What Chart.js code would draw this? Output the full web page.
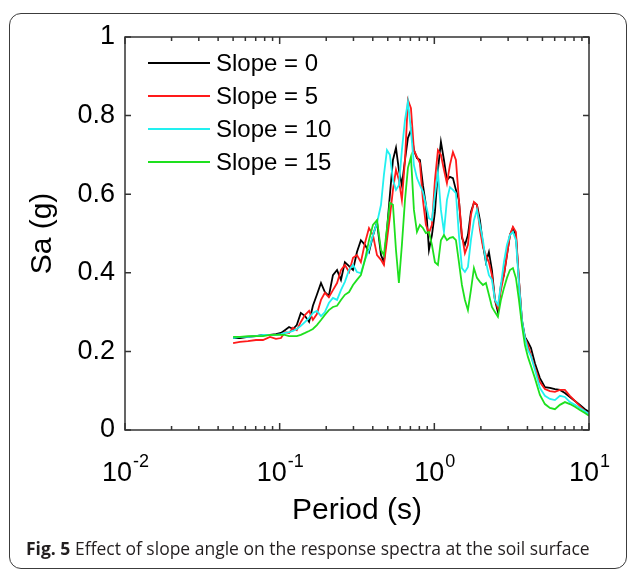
<!DOCTYPE html>
<html>
<head>
<meta charset="utf-8">
<script src="https://cdn.jsdelivr.net/npm/chart.js@4.4.0/dist/chart.umd.min.js"></script>
<style>
  html, body { margin: 0; padding: 0; background: #fff; }
  #wrap { position: relative; width: 630px; height: 571px; overflow: hidden; }
  #frame { position: absolute; left: 9px; top: 13px; width: 616px; height: 554px; border: 1.5px solid #3c3c3c; border-radius: 12px; }
  canvas { position: absolute; left: 0; top: 0; }
  #caption { position: absolute; left: 26px; top: 538px; line-height: 20px; font-family: "Open Sans", sans-serif; font-size: 16px; color: #231f20; white-space: nowrap; }
</style>
</head>
<body>
<div id="wrap">
  <div id="frame"></div>
  <canvas id="spectra" width="630" height="571"></canvas>
  <div id="caption"><b>Fig. 5</b> Effect of slope angle on the response spectra at the soil surface</div>
</div>
<script>
// periods (s)
const periods = [0.050, 0.0554, 0.0624, 0.0703, 0.0780, 0.0866, 0.0946, 0.102, 0.108, 0.115,
  0.122, 0.129, 0.137, 0.146, 0.155, 0.164, 0.174, 0.185, 0.196, 0.208,
  0.221, 0.235, 0.249, 0.264, 0.281, 0.298, 0.316, 0.335, 0.356, 0.378,
  0.401, 0.426, 0.452, 0.472, 0.494, 0.516, 0.540, 0.565, 0.590, 0.617,
  0.646, 0.675, 0.706, 0.738, 0.772, 0.807, 0.844, 0.882, 0.923, 0.965,
  1.009, 1.055, 1.103, 1.154, 1.206, 1.261, 1.319, 1.379, 1.442, 1.508,
  1.577, 1.649, 1.724, 1.803, 1.886, 1.972, 2.062, 2.156, 2.254, 2.357,
  2.465, 2.577, 2.695, 2.818, 2.947, 3.082, 3.222, 3.369, 3.523, 3.684,
  3.852, 4.028, 4.212, 4.470, 4.815, 5.188, 5.589, 6.021, 6.486, 6.987,
  7.525, 8.109, 8.735, 9.409, 10.0];

// Sa (g) for each slope
const slope0 = [0.234, 0.234, 0.237, 0.239, 0.242, 0.242, 0.244, 0.247, 0.254, 0.262,
  0.257, 0.267, 0.298, 0.290, 0.275, 0.316, 0.344, 0.374, 0.351, 0.341,
  0.394, 0.407, 0.382, 0.427, 0.417, 0.407, 0.453, 0.483, 0.471, 0.453,
  0.494, 0.529, 0.445, 0.427, 0.509, 0.598, 0.687, 0.718, 0.662, 0.623,
  0.687, 0.743, 0.763, 0.712, 0.692, 0.687, 0.623, 0.573, 0.458, 0.496,
  0.555, 0.662, 0.733, 0.687, 0.636, 0.644, 0.641, 0.611, 0.585, 0.489,
  0.471, 0.496, 0.555, 0.578, 0.573, 0.534, 0.471, 0.427, 0.453, 0.407,
  0.331, 0.300, 0.369, 0.394, 0.445, 0.496, 0.514, 0.496, 0.382, 0.280,
  0.237, 0.224, 0.209, 0.170, 0.132, 0.109, 0.107, 0.104, 0.102, 0.094,
  0.084, 0.074, 0.064, 0.053, 0.046];

const slope5 = [0.221, 0.224, 0.226, 0.229, 0.229, 0.237, 0.232, 0.234, 0.249, 0.247,
  0.260, 0.254, 0.275, 0.293, 0.303, 0.280, 0.295, 0.331, 0.349, 0.338,
  0.356, 0.374, 0.407, 0.420, 0.402, 0.438, 0.445, 0.427, 0.476, 0.514,
  0.496, 0.445, 0.433, 0.420, 0.483, 0.542, 0.611, 0.662, 0.636, 0.585,
  0.687, 0.840, 0.819, 0.712, 0.695, 0.679, 0.585, 0.522, 0.501, 0.522,
  0.636, 0.712, 0.700, 0.662, 0.628, 0.674, 0.707, 0.687, 0.585, 0.496,
  0.450, 0.471, 0.547, 0.580, 0.573, 0.509, 0.466, 0.445, 0.427, 0.394,
  0.331, 0.310, 0.356, 0.394, 0.445, 0.496, 0.517, 0.504, 0.382, 0.275,
  0.234, 0.216, 0.191, 0.158, 0.122, 0.104, 0.099, 0.097, 0.102, 0.102,
  0.087, 0.074, 0.061, 0.048, 0.041];

const slope10 = [0.234, 0.237, 0.237, 0.239, 0.242, 0.242, 0.242, 0.244, 0.247, 0.249,
  0.252, 0.257, 0.265, 0.275, 0.285, 0.298, 0.303, 0.290, 0.300, 0.323,
  0.336, 0.331, 0.356, 0.377, 0.407, 0.420, 0.402, 0.399, 0.433, 0.458,
  0.496, 0.527, 0.573, 0.649, 0.712, 0.700, 0.636, 0.611, 0.623, 0.712,
  0.789, 0.835, 0.763, 0.674, 0.641, 0.623, 0.606, 0.573, 0.539, 0.534,
  0.598, 0.656, 0.560, 0.504, 0.585, 0.618, 0.611, 0.603, 0.496, 0.412,
  0.402, 0.415, 0.483, 0.534, 0.560, 0.522, 0.483, 0.427, 0.394, 0.382,
  0.331, 0.318, 0.369, 0.427, 0.471, 0.496, 0.504, 0.483, 0.374, 0.280,
  0.234, 0.204, 0.188, 0.153, 0.107, 0.087, 0.079, 0.076, 0.087, 0.084,
  0.071, 0.064, 0.056, 0.048, 0.041];

const slope15 = [0.237, 0.237, 0.239, 0.239, 0.239, 0.242, 0.242, 0.242, 0.242, 0.239,
  0.239, 0.239, 0.242, 0.247, 0.252, 0.257, 0.267, 0.280, 0.293, 0.305,
  0.313, 0.316, 0.331, 0.344, 0.351, 0.369, 0.382, 0.394, 0.433, 0.483,
  0.522, 0.534, 0.458, 0.445, 0.514, 0.578, 0.573, 0.458, 0.374, 0.471,
  0.585, 0.667, 0.695, 0.560, 0.504, 0.522, 0.514, 0.501, 0.504, 0.471,
  0.427, 0.420, 0.483, 0.496, 0.483, 0.489, 0.491, 0.483, 0.427, 0.369,
  0.331, 0.305, 0.356, 0.412, 0.387, 0.377, 0.369, 0.374, 0.344, 0.313,
  0.300, 0.288, 0.331, 0.361, 0.387, 0.407, 0.412, 0.387, 0.331, 0.267,
  0.216, 0.186, 0.163, 0.132, 0.089, 0.066, 0.056, 0.053, 0.064, 0.071,
  0.066, 0.059, 0.051, 0.043, 0.036];

const seriesLabels = ['Slope = 0', 'Slope = 5', 'Slope = 10', 'Slope = 15'];
const seriesColors = ['#000000', '#ff1a1a', '#22f0f0', '#1ee01e'];
const yTicks = [0, 0.2, 0.4, 0.6, 0.8, 1];
const xDecades = [0.01, 0.1, 1, 10];
const xDecadeExps = ['-2', '-1', '0', '1'];

const AXIS_FONT = '"Liberation Sans", Arial, sans-serif';

// MATLAB-like box with inward ticks, superscript x labels and an inset legend
const matlabAxes = {
  id: 'matlabAxes',
  afterDatasetsDraw(chart) {
    const { ctx, chartArea: a, scales: { x, y } } = chart;
    ctx.save();
    ctx.strokeStyle = '#333';
    ctx.lineWidth = 1.5;
    ctx.strokeRect(a.left, a.top, a.right - a.left, a.bottom - a.top);
    ctx.beginPath();
    xDecades.forEach((d, i) => {
      const px = x.getPixelForValue(d);
      ctx.moveTo(px, a.bottom); ctx.lineTo(px, a.bottom - 7);
      ctx.moveTo(px, a.top); ctx.lineTo(px, a.top + 7);
      if (i < xDecades.length - 1) {
        for (let m = 2; m <= 9; m++) {
          const mx = x.getPixelForValue(m * d);
          ctx.moveTo(mx, a.bottom); ctx.lineTo(mx, a.bottom - 4);
          ctx.moveTo(mx, a.top); ctx.lineTo(mx, a.top + 4);
        }
      }
    });
    yTicks.forEach(v => {
      const py = y.getPixelForValue(v);
      ctx.moveTo(a.left, py); ctx.lineTo(a.left + 6, py);
      ctx.moveTo(a.right, py); ctx.lineTo(a.right - 6, py);
    });
    ctx.stroke();

    // x tick labels: 10 with a raised exponent
    ctx.fillStyle = '#000';
    ctx.textBaseline = 'alphabetic';
    ctx.textAlign = 'left';
    const baseY = a.bottom + 51;
    xDecades.forEach((d, i) => {
      const px = x.getPixelForValue(d);
      ctx.font = '27px ' + AXIS_FONT;
      const wb = ctx.measureText('10').width;
      ctx.font = '18px ' + AXIS_FONT;
      const we = ctx.measureText(xDecadeExps[i]).width;
      const x0 = px - (wb + we) / 2;
      ctx.font = '27px ' + AXIS_FONT;
      ctx.fillText('10', x0, baseY);
      ctx.font = '18px ' + AXIS_FONT;
      ctx.fillText(xDecadeExps[i], x0 + wb + 1, baseY - 14);
    });

    // legend
    ctx.font = '24px ' + AXIS_FONT;
    ctx.textBaseline = 'middle';
    chart.data.datasets.forEach((ds, i) => {
      const ly = a.top + 26 + i * 33;
      ctx.strokeStyle = ds.borderColor;
      ctx.lineWidth = 2;
      ctx.beginPath();
      ctx.moveTo(a.left + 23, ly);
      ctx.lineTo(a.left + 85, ly);
      ctx.stroke();
      ctx.fillStyle = '#000';
      ctx.fillText(ds.label, a.left + 91, ly + 1);
    });
    ctx.restore();
  }
};

const datasets = [slope0, slope5, slope10, slope15].map((vals, i) => ({
  label: seriesLabels[i],
  data: periods.map((t, k) => ({ x: t, y: vals[k] })),
  borderColor: seriesColors[i],
  backgroundColor: seriesColors[i],
  borderWidth: 1.8,
  pointRadius: 0,
  tension: 0,
  fill: false,
  order: 3 - i
}));

new Chart(document.getElementById('spectra'), {
  type: 'line',
  data: { datasets },
  plugins: [matlabAxes],
  options: {
    responsive: false,
    animation: false,
    devicePixelRatio: 1,
    layout: { padding: { left: 0, top: 37, right: 41, bottom: 0 } },
    plugins: { legend: { display: false }, tooltip: { enabled: false } },
    scales: {
      x: {
        type: 'logarithmic',
        min: 0.01,
        max: 10,
        grid: { display: false },
        border: { display: false },
        ticks: { display: false },
        title: {
          display: true,
          text: 'Period (s)',
          color: '#000',
          font: { family: AXIS_FONT, size: 30 },
          padding: { top: 0, bottom: 42 }
        },
        afterFit: s => { s.height = 141; }
      },
      y: {
        min: 0,
        max: 1,
        grid: { display: false, drawTicks: false },
        border: { display: false },
        afterBuildTicks: s => { s.ticks = yTicks.map(v => ({ value: v })); },
        ticks: {
          color: '#000',
          padding: 10,
          font: { family: AXIS_FONT, size: 27 },
          callback: v => String(+v.toFixed(1))
        },
        title: {
          display: true,
          text: 'Sa (g)',
          color: '#000',
          font: { family: AXIS_FONT, size: 30 },
          padding: { top: 25, bottom: 0 }
        },
        afterFit: s => { s.width = 125; }
      }
    }
  }
});

// fit the caption to the width used in the figure
const cap = document.getElementById('caption');
let fs = 18;
cap.style.fontSize = fs + 'px';
while (cap.offsetWidth > 568 && fs > 10) {
  fs -= 0.25;
  cap.style.fontSize = fs + 'px';
}
</script>
</body>
</html>
